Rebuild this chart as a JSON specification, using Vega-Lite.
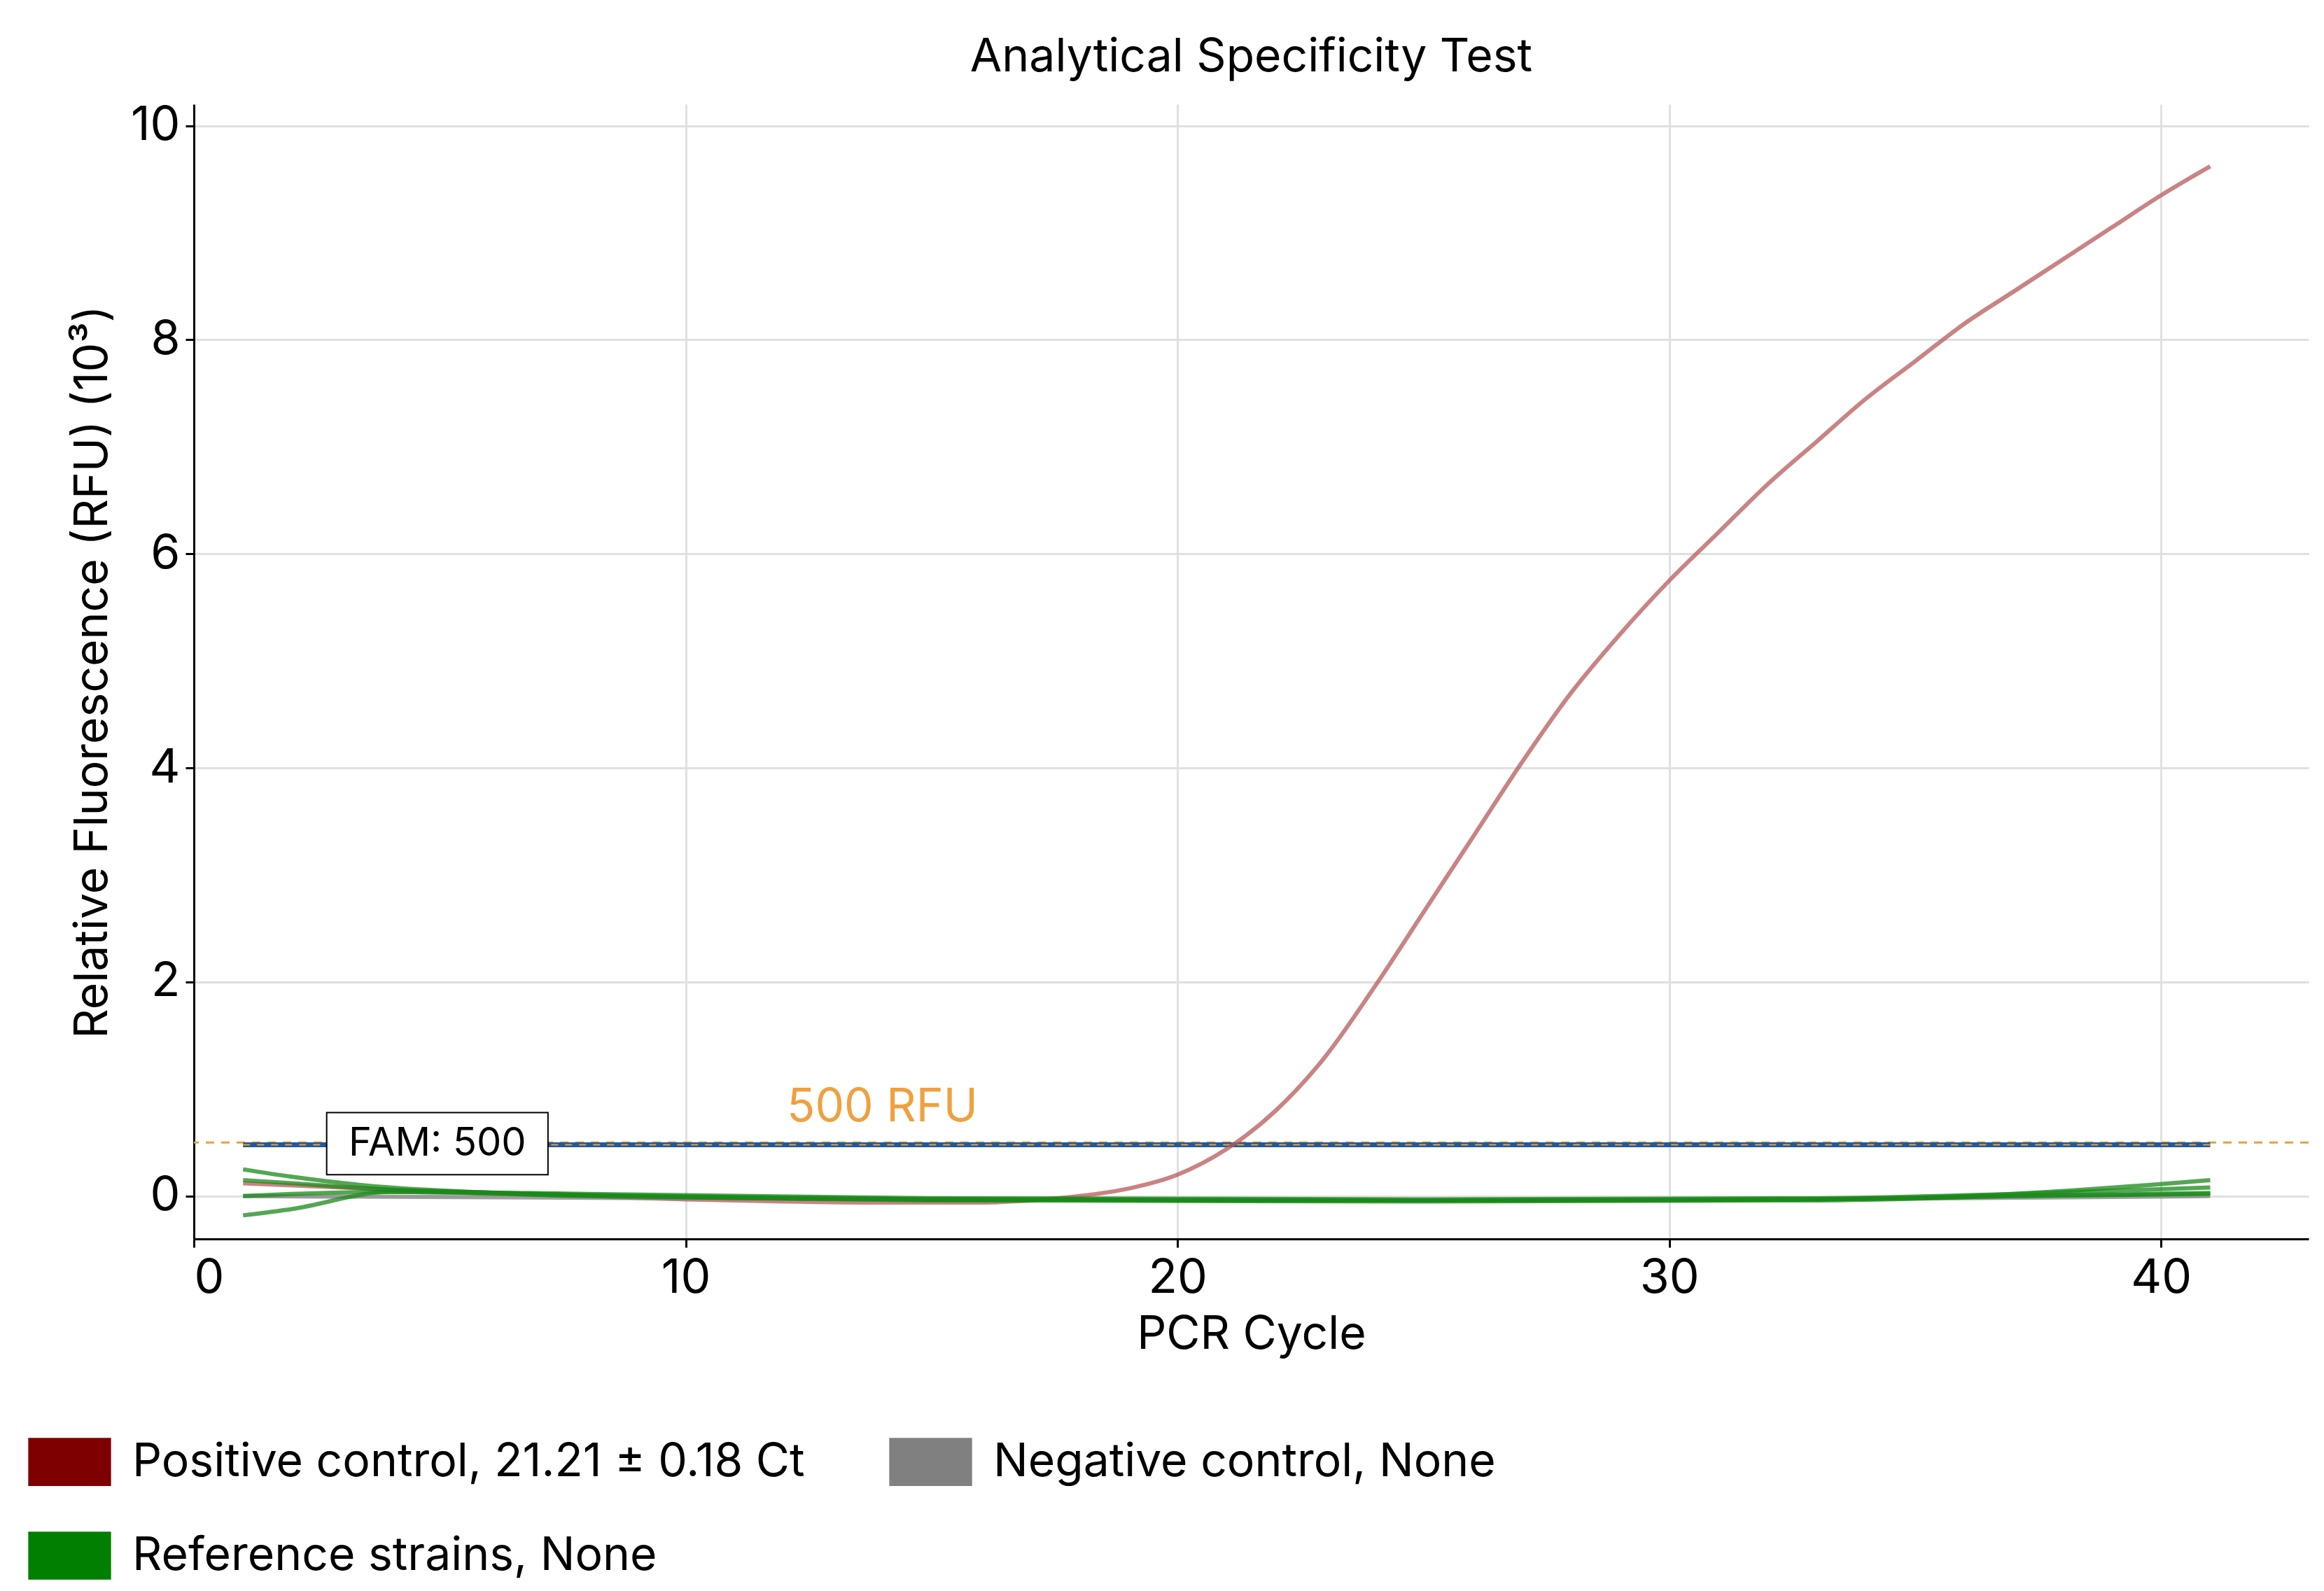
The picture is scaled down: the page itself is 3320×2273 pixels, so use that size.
{
"$schema":"https://vega.github.io/schema/vega-lite/v6.json",
"autosize":{"type":"none"},
"padding":{"left":277,"top":149,"right":22,"bottom":503},
"width":3021,"height":1621,
"background":"white",
"config":{"font":"Inter","view":{"stroke":null}},
"title":{"text":"Analytical Specificity Test","fontSize":66,"fontWeight":"normal","offset":30,"color":"#000"},
"datasets":{
"curves":[
{"c":1,"v":0.12,"s":"Positive control, 21.21 ± 0.18 Ct"},{"c":2,"v":0.1,"s":"Positive control, 21.21 ± 0.18 Ct"},{"c":3,"v":0.08,"s":"Positive control, 21.21 ± 0.18 Ct"},{"c":4,"v":0.06,"s":"Positive control, 21.21 ± 0.18 Ct"},{"c":6,"v":0.03,"s":"Positive control, 21.21 ± 0.18 Ct"},{"c":8,"v":0.0,"s":"Positive control, 21.21 ± 0.18 Ct"},{"c":10,"v":-0.03,"s":"Positive control, 21.21 ± 0.18 Ct"},{"c":12,"v":-0.05,"s":"Positive control, 21.21 ± 0.18 Ct"},{"c":14,"v":-0.06,"s":"Positive control, 21.21 ± 0.18 Ct"},{"c":16,"v":-0.06,"s":"Positive control, 21.21 ± 0.18 Ct"},{"c":17,"v":-0.04,"s":"Positive control, 21.21 ± 0.18 Ct"},{"c":18,"v":0.0,"s":"Positive control, 21.21 ± 0.18 Ct"},{"c":19,"v":0.07,"s":"Positive control, 21.21 ± 0.18 Ct"},{"c":20,"v":0.2,"s":"Positive control, 21.21 ± 0.18 Ct"},{"c":21,"v":0.44,"s":"Positive control, 21.21 ± 0.18 Ct"},{"c":22,"v":0.8,"s":"Positive control, 21.21 ± 0.18 Ct"},{"c":23,"v":1.3,"s":"Positive control, 21.21 ± 0.18 Ct"},{"c":24,"v":1.95,"s":"Positive control, 21.21 ± 0.18 Ct"},{"c":25,"v":2.65,"s":"Positive control, 21.21 ± 0.18 Ct"},{"c":26,"v":3.35,"s":"Positive control, 21.21 ± 0.18 Ct"},{"c":27,"v":4.05,"s":"Positive control, 21.21 ± 0.18 Ct"},{"c":28,"v":4.7,"s":"Positive control, 21.21 ± 0.18 Ct"},{"c":29,"v":5.25,"s":"Positive control, 21.21 ± 0.18 Ct"},{"c":30,"v":5.75,"s":"Positive control, 21.21 ± 0.18 Ct"},{"c":31,"v":6.2,"s":"Positive control, 21.21 ± 0.18 Ct"},{"c":32,"v":6.65,"s":"Positive control, 21.21 ± 0.18 Ct"},{"c":33,"v":7.05,"s":"Positive control, 21.21 ± 0.18 Ct"},{"c":34,"v":7.45,"s":"Positive control, 21.21 ± 0.18 Ct"},{"c":35,"v":7.8,"s":"Positive control, 21.21 ± 0.18 Ct"},{"c":36,"v":8.15,"s":"Positive control, 21.21 ± 0.18 Ct"},{"c":37,"v":8.45,"s":"Positive control, 21.21 ± 0.18 Ct"},{"c":38,"v":8.75,"s":"Positive control, 21.21 ± 0.18 Ct"},{"c":39,"v":9.05,"s":"Positive control, 21.21 ± 0.18 Ct"},{"c":40,"v":9.35,"s":"Positive control, 21.21 ± 0.18 Ct"},{"c":41,"v":9.62,"s":"Positive control, 21.21 ± 0.18 Ct"},
{"c":1,"v":0.0,"s":"Negative control, None","r":"n"},{"c":10,"v":-0.02,"s":"Negative control, None","r":"n"},{"c":20,"v":-0.04,"s":"Negative control, None","r":"n"},{"c":30,"v":-0.04,"s":"Negative control, None","r":"n"},{"c":41,"v":0.0,"s":"Negative control, None","r":"n"},
{"c":1,"v":0.25,"s":"Reference strains, None","r":"a"},{"c":2,"v":0.18,"s":"Reference strains, None","r":"a"},{"c":4,"v":0.08,"s":"Reference strains, None","r":"a"},{"c":8,"v":0.01,"s":"Reference strains, None","r":"a"},{"c":15,"v":-0.03,"s":"Reference strains, None","r":"a"},{"c":25,"v":-0.04,"s":"Reference strains, None","r":"a"},{"c":33,"v":-0.03,"s":"Reference strains, None","r":"a"},{"c":37,"v":0.02,"s":"Reference strains, None","r":"a"},{"c":41,"v":0.15,"s":"Reference strains, None","r":"a"},
{"c":1,"v":0.15,"s":"Reference strains, None","r":"b"},{"c":2,"v":0.12,"s":"Reference strains, None","r":"b"},{"c":4,"v":0.06,"s":"Reference strains, None","r":"b"},{"c":8,"v":0.02,"s":"Reference strains, None","r":"b"},{"c":15,"v":-0.02,"s":"Reference strains, None","r":"b"},{"c":25,"v":-0.03,"s":"Reference strains, None","r":"b"},{"c":33,"v":-0.02,"s":"Reference strains, None","r":"b"},{"c":37,"v":0.02,"s":"Reference strains, None","r":"b"},{"c":41,"v":0.08,"s":"Reference strains, None","r":"b"},
{"c":1,"v":0.0,"s":"Reference strains, None","r":"c"},{"c":2,"v":0.02,"s":"Reference strains, None","r":"c"},{"c":4,"v":0.04,"s":"Reference strains, None","r":"c"},{"c":8,"v":0.0,"s":"Reference strains, None","r":"c"},{"c":15,"v":-0.04,"s":"Reference strains, None","r":"c"},{"c":25,"v":-0.05,"s":"Reference strains, None","r":"c"},{"c":33,"v":-0.04,"s":"Reference strains, None","r":"c"},{"c":37,"v":0.0,"s":"Reference strains, None","r":"c"},{"c":41,"v":0.03,"s":"Reference strains, None","r":"c"},
{"c":1,"v":-0.18,"s":"Reference strains, None","r":"d"},{"c":2,"v":-0.12,"s":"Reference strains, None","r":"d"},{"c":4,"v":0.04,"s":"Reference strains, None","r":"d"},{"c":8,"v":0.01,"s":"Reference strains, None","r":"d"},{"c":15,"v":-0.03,"s":"Reference strains, None","r":"d"},{"c":25,"v":-0.04,"s":"Reference strains, None","r":"d"},{"c":33,"v":-0.03,"s":"Reference strains, None","r":"d"},{"c":37,"v":0.0,"s":"Reference strains, None","r":"d"},{"c":41,"v":0.02,"s":"Reference strains, None","r":"d"}
]},
"layer":[
{"data":{"values":[{"y":0.5}]},"mark":{"type":"rule","color":"#f0a030","strokeDash":[12,10],"strokeWidth":3},"encoding":{"y":{"field":"y","type":"quantitative"}}},
{"data":{"values":[{"a":1,"b":41,"y":0.48}]},"mark":{"type":"rule","color":"#1f5aa0","strokeWidth":7},"encoding":{"x":{"field":"a","type":"quantitative"},"x2":{"field":"b"},"y":{"field":"y","type":"quantitative"}}},
{"data":{"values":[{"a":1,"b":41,"y":0.48}]},"mark":{"type":"rule","color":"#f0a030","strokeDash":[10,10],"strokeWidth":2},"encoding":{"x":{"field":"a","type":"quantitative"},"x2":{"field":"b"},"y":{"field":"y","type":"quantitative"}}},
{"data":{"name":"curves"},"mark":{"type":"line","interpolate":"monotone","strokeWidth":6,"opacity":0.75},
"encoding":{
"x":{"field":"c","type":"quantitative","scale":{"domain":[0,43],"nice":false},"axis":{"values":[0,10,20,30,40],"format":"d","title":"PCR Cycle","titleFontSize":66,"titleFontWeight":"normal","titlePadding":14,"labelFontSize":68,"labelColor":"#000","titleColor":"#000","domainColor":"#000","domainWidth":3,"tickColor":"#000","tickSize":12,"tickWidth":3,"gridColor":"#e0e0e0","gridWidth":3,"labelPadding":10}},
"y":{"field":"v","type":"quantitative","scale":{"domain":[-0.4,10.2],"nice":false,"zero":false},"axis":{"values":[0,2,4,6,8,10],"format":"d","title":"Relative Fluorescence (RFU) (10³)","titleFontSize":66,"titleFontWeight":"normal","titlePadding":20,"labelFontSize":68,"labelColor":"#000","titleColor":"#000","domainColor":"#000","domainWidth":3,"tickColor":"#000","tickSize":12,"tickWidth":3,"gridColor":"#e0e0e0","gridWidth":3,"labelPadding":8}},
"detail":{"field":"r"},
"color":{"field":"s","type":"nominal","scale":{"domain":["Positive control, 21.21 ± 0.18 Ct","Negative control, None","Reference strains, None"],"range":["#b85a5a","#808080","#1a8a1a"]},
"legend":{"title":null,"orient":"none","legendX":-237,"legendY":1880,"direction":"horizontal","columns":2,"columnPadding":120,"rowPadding":40,"labelFontSize":66,"labelColor":"#000","labelLimit":2000,"symbolType":"M-1,-0.58H1V0.58H-1Z","symbolSize":14000,"symbolOpacity":1,"symbolStrokeWidth":0,"labelOffset":30,
"encode":{"symbols":{"update":{"fill":{"signal":"scale('legcol', datum.value)"},"stroke":{"value":"transparent"}}}}}}
}},
{"data":{"values":[{"k":"Positive control, 21.21 ± 0.18 Ct"},{"k":"Negative control, None"},{"k":"Reference strains, None"}]},"mark":{"type":"point","opacity":0},"encoding":{"x":{"datum":-100,"type":"quantitative"},"y":{"datum":-100,"type":"quantitative"},"fill":{"field":"k","type":"nominal","scale":{"name":"legcol","domain":["Positive control, 21.21 ± 0.18 Ct","Negative control, None","Reference strains, None"],"range":["#7f0000","#808080","#007f00"]},"legend":null}}},
{"data":{"values":[{"a":2.7,"b":7.2,"y1":0.2,"y2":0.78}]},"mark":{"type":"rect","fill":"white","stroke":"#000","strokeWidth":2},"encoding":{"x":{"field":"a","type":"quantitative"},"x2":{"field":"b"},"y":{"field":"y1","type":"quantitative"},"y2":{"field":"y2"}}},
{"data":{"values":[{"x":4.95,"y":0.49,"t":"FAM: 500"}]},"mark":{"type":"text","fontSize":56,"color":"#000","align":"center","baseline":"middle"},"encoding":{"x":{"field":"x","type":"quantitative"},"y":{"field":"y","type":"quantitative"},"text":{"field":"t"}}},
{"data":{"values":[{"x":14,"y":0.83,"t":"500 RFU"}]},"mark":{"type":"text","fontSize":66,"color":"#f0a040","align":"center","baseline":"middle"},"encoding":{"x":{"field":"x","type":"quantitative"},"y":{"field":"y","type":"quantitative"},"text":{"field":"t"}}}
]
}
